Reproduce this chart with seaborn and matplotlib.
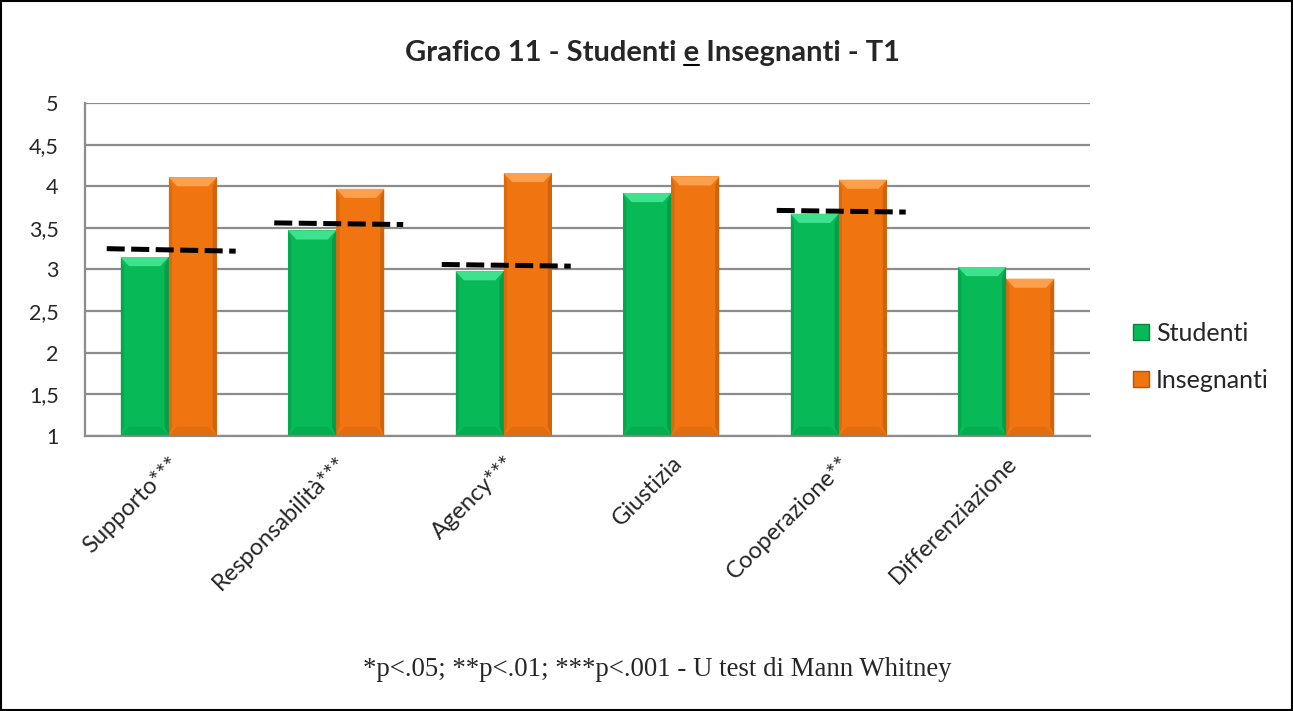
import numpy as np
import pandas as pd
import matplotlib
matplotlib.use("Agg")
import matplotlib.pyplot as plt
from matplotlib.patches import Polygon, Rectangle
from matplotlib.lines import Line2D
import seaborn as sns

# data
categories = ["Supporto***", "Responsabilità***", "Agency***", "Giustizia",
              "Cooperazione**", "Differenziazione"]
studenti = [3.15, 3.47, 2.98, 3.92, 3.67, 3.03]
insegnanti = [4.11, 3.97, 4.16, 4.12, 4.08, 2.89]
series = ["Studenti", "Insegnanti"]

# dashed reference lines (category, value at left end, value at right end)
ref_cats = ["Supporto***", "Responsabilità***", "Agency***", "Cooperazione**"]
ref_left = [3.25, 3.56, 3.06, 3.71]
ref_right = [3.22, 3.54, 3.04, 3.69]

y_ticks = [1, 1.5, 2, 2.5, 3, 3.5, 4, 4.5, 5]
y_labels = ["1", "1,5", "2", "2,5", "3", "3,5", "4", "4,5", "5"]

title = "Grafico 11 - Studenti e Insegnanti - T1"
note = "*p<.05; **p<.01; ***p<.001 - U test di Mann Whitney"

colors = {"Studenti": "#07B957", "Insegnanti": "#F07510"}
light = {"Studenti": "#3FE28C", "Insegnanti": "#FBA04C"}
dark = {"Studenti": "#04863E", "Insegnanti": "#B5560A"}

df = pd.DataFrame({
    "cat": categories * 2,
    "serie": [series[0]] * len(categories) + [series[1]] * len(categories),
    "val": studenti + insegnanti,
})

sns.set_style("white")
plt.rcParams["font.family"] = ["Lato", "DejaVu Sans"]

fig = plt.figure(figsize=(12.93, 7.11), dpi=100)
ax = fig.add_axes([0.0657, 0.387, 0.7773, 0.468])

sns.barplot(data=df, x="cat", y="val", hue="serie", palette=colors,
            width=0.575, gap=0, ax=ax, legend=False, saturation=1,
            edgecolor="none")

ax.set_ylim(1, 5)
ax.set_xlim(-0.5, len(categories) - 0.5)
ax.set_yticks(y_ticks)
ax.set_yticklabels(y_labels, fontsize=15.5)
ax.set_xlabel("")
ax.set_ylabel("")
ax.yaxis.grid(True, color="#8C8C8C", lw=1.6)
ax.set_axisbelow(True)
for s in ["top", "right"]:
    ax.spines[s].set_visible(False)
for s in ["left", "bottom"]:
    ax.spines[s].set_color("#8C8C8C")
    ax.spines[s].set_linewidth(1.6)
ax.tick_params(axis="y", length=4, color="#8C8C8C", width=1.6, pad=15)
ax.tick_params(axis="x", length=0, pad=12)
ax.set_xticks(range(len(categories)))
ax.set_xticklabels(categories, rotation=45, ha="right", va="top",
                   rotation_mode="anchor", fontsize=17)

# bevel look on bars
dx, dy = 0.05, 0.11
for i, p in enumerate(ax.patches[:2 * len(categories)]):
    name = series[i // len(categories)]
    x0 = p.get_x()
    x1 = x0 + p.get_width()
    top = p.get_height()
    bot = 1
    ax.add_patch(Polygon([(x0, top), (x1, top), (x1 - dx, top - dy), (x0 + dx, top - dy)],
                         closed=True, fc=light[name], ec="none", zorder=3))
    ax.add_patch(Polygon([(x1, top), (x1, bot), (x1 - dx * 0.5, bot + dy), (x1 - dx * 0.5, top - dy)],
                         closed=True, fc=dark[name], ec="none", alpha=0.55, zorder=3))
    ax.add_patch(Polygon([(x0, top), (x0, bot), (x0 + dx * 0.4, bot + dy), (x0 + dx * 0.4, top - dy)],
                         closed=True, fc=dark[name], ec="none", alpha=0.35, zorder=3))
    ax.add_patch(Polygon([(x0, bot), (x1, bot), (x1 - dx, bot + dy), (x0 + dx, bot + dy)],
                         closed=True, fc=dark[name], ec="none", alpha=0.25, zorder=3))

# dashed reference lines
for c, yl, yr in zip(ref_cats, ref_left, ref_right):
    xi = categories.index(c)
    ax.plot([xi - 0.37, xi + 0.40], [yl, yr], color="black", lw=3.6,
            linestyle=(0, (3.6, 1.3)), solid_capstyle="butt", zorder=5)

# legend
handles = [Rectangle((0, 0), 1, 1, fc=colors[s], ec=dark[s], lw=1) for s in series]
fig.legend(handles, series, loc="center left", bbox_to_anchor=(0.859, 0.498),
           frameon=False, fontsize=18, handlelength=0.62, handleheight=0.62,
           handletextpad=0.3, labelspacing=0.95)

# title with underlined "e"
renderer = fig.canvas.get_renderer()
tkw = dict(fontsize=21, fontweight="bold")
ty = 1 - 61 / 711
tx = 0.5046
t = fig.text(tx, ty, title, ha="center", va="baseline", **tkw)
full_w = t.get_window_extent(renderer).width


def width(s):
    tmp = fig.text(0, 0, s, **tkw)
    w = tmp.get_window_extent(renderer).width
    tmp.remove()
    return w


W, H = fig.bbox.width, fig.bbox.height
left_px = tx * W - full_w / 2
e_end = left_px + width("Grafico 11 - Studenti e")
e_start = e_end - width("e")
uy = ty * H - 3.5
fig.add_artist(Line2D([e_start / W, e_end / W], [uy / H, uy / H],
                      transform=fig.transFigure, color="black", lw=1.5))

# footnote
fig.text(0.5085, 1 - 670 / 711, note, ha="center", va="center",
         fontsize=19.3, family=["Liberation Serif", "DejaVu Serif"])

# outer frame
fig.add_artist(Rectangle((0.001, 0.0015), 0.998, 0.997, transform=fig.transFigure,
                         fill=False, ec="black", lw=1.5))

fig.savefig("out.png", dpi=100)
